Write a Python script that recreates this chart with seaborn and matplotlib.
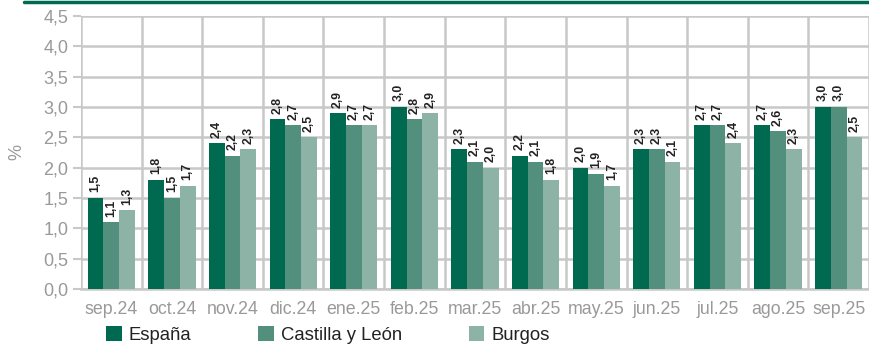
import matplotlib
matplotlib.use("Agg")
import matplotlib.pyplot as plt
import seaborn as sns
import pandas as pd
import numpy as np
from matplotlib.patches import Patch
from matplotlib.lines import Line2D

categories = ["sep.24", "oct.24", "nov.24", "dic.24", "ene.25", "feb.25", "mar.25",
              "abr.25", "may.25", "jun.25", "jul.25", "ago.25", "sep.25"]
espana = [1.5, 1.8, 2.4, 2.8, 2.9, 3.0, 2.3, 2.2, 2.0, 2.3, 2.7, 2.7, 3.0]
castilla = [1.1, 1.5, 2.2, 2.7, 2.7, 2.8, 2.1, 2.1, 1.9, 2.3, 2.7, 2.6, 3.0]
burgos = [1.3, 1.7, 2.3, 2.5, 2.7, 2.9, 2.0, 1.8, 1.7, 2.1, 2.4, 2.3, 2.5]
series = ["España", "Castilla y León", "Burgos"]
colors = ["#006A51", "#528F7C", "#8CB3A6"]
yticks = [0.0, 0.5, 1.0, 1.5, 2.0, 2.5, 3.0, 3.5, 4.0, 4.5]

df = pd.DataFrame({
    "mes": categories * 3,
    "valor": espana + castilla + burgos,
    "serie": [series[0]] * 13 + [series[1]] * 13 + [series[2]] * 13,
})

sns.set_theme(style="white")
plt.rcParams["font.family"] = ["Liberation Sans", "DejaVu Sans"]

fig = plt.figure(figsize=(8.69, 3.45), dpi=100)
ax = fig.add_axes([81/869, 1-289/345, 1-81/869, (289-16)/345])

sns.barplot(data=df, x="mes", y="valor", hue="serie", hue_order=series,
            palette=colors, width=0.78, gap=0, saturation=1, ax=ax,
            legend=False, zorder=3, edgecolor="none", linewidth=0)

for cont in ax.containers:
    ax.bar_label(cont, labels=[f"{v:.1f}".replace(".", ",") for v in cont.datavalues],
                 rotation=90, fontsize=8.8, fontweight="bold", color="#222222",
                 padding=4)

ax.set_ylim(0, 4.5)
ax.set_xlim(-0.5, 12.5)
ax.set_yticks(yticks)
ax.set_yticklabels([f"{t:.1f}".replace(".", ",") for t in yticks])
ax.set_xlabel("")
ax.set_ylabel("%", fontsize=13, color="#999999", labelpad=13)

ax.set_xticks(np.arange(13))
ax.set_xticks(np.arange(-0.5, 13, 1), minor=True)
ax.tick_params(axis="x", which="major", length=0, labelsize=12.8, labelcolor="#999999", pad=9)
ax.tick_params(axis="x", which="minor", length=20, width=1.5, color="#c8c8c8", direction="out")
ax.tick_params(axis="y", which="major", length=6, width=1.5, color="#c8c8c8",
               labelsize=13, labelcolor="#999999", pad=3, left=True)

ax.grid(True, axis="y", color="#c8c8c8", linewidth=1.8, zorder=0)
ax.grid(True, axis="x", which="minor", color="#c8c8c8", linewidth=1.8, zorder=0)
ax.set_axisbelow(True)
for s in ["top", "right", "left"]:
    ax.spines[s].set_visible(False)
ax.spines["bottom"].set_color("#c8c8c8")
ax.spines["bottom"].set_linewidth(1.8)

fig.add_artist(Line2D([24/869, 1], [1-1.5/345, 1-1.5/345], color="#006A51", linewidth=2.5))

handles = [Patch(facecolor=c, edgecolor="none") for c in colors]
fig.legend(handles, series, loc="center left", bbox_to_anchor=(106/869, 1-335/345),
           ncol=3, frameon=False, fontsize=13.3, handlelength=0.86, handleheight=0.86,
           handletextpad=0.38, columnspacing=3.6, borderpad=0, borderaxespad=0,
           labelcolor="#222222")

fig.savefig("out.png", dpi=100)
